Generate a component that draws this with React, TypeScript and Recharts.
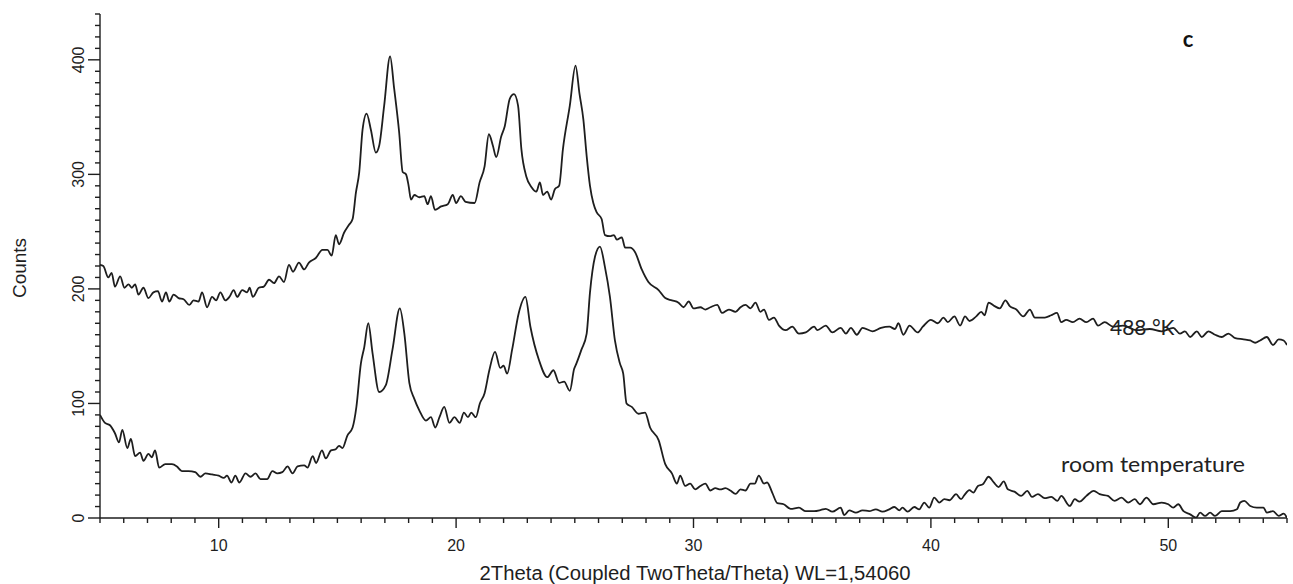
import React from 'react';
import { LineChart, Line, XAxis, YAxis } from 'recharts';

// [2theta, counts]
const trace488K: [number, number][] = [
  [5.0, 221], [5.14, 220], [5.35, 210], [5.49, 214], [5.63, 202], [5.85, 211], [6.03, 201], [6.2, 204],
  [6.34, 201], [6.48, 204], [6.62, 195], [6.83, 201], [7.04, 192], [7.25, 197], [7.44, 198], [7.61, 189],
  [7.78, 197], [7.92, 189], [8.1, 195], [8.31, 192], [8.52, 191], [8.76, 186], [8.94, 190], [9.15, 189],
  [9.3, 197], [9.51, 184], [9.72, 193], [9.89, 190], [10.07, 197], [10.28, 190], [10.45, 193], [10.63, 199],
  [10.78, 193], [10.99, 199], [11.2, 197], [11.3, 201], [11.44, 193], [11.69, 201], [11.9, 202], [12.12, 208],
  [12.33, 205], [12.54, 211], [12.75, 206], [12.96, 221], [13.13, 215], [13.38, 223], [13.6, 217], [13.8, 223],
  [14.09, 227], [14.37, 234], [14.58, 234], [14.76, 229], [14.93, 247], [15.07, 239], [15.28, 249], [15.49, 256],
  [15.64, 261], [15.78, 284], [15.92, 302], [16.06, 339], [16.23, 353], [16.41, 339], [16.62, 319], [16.76, 325],
  [16.97, 360], [17.22, 403], [17.39, 375], [17.6, 337], [17.75, 302], [17.89, 300], [18.0, 290], [18.1, 278],
  [18.24, 282], [18.45, 280], [18.66, 281], [18.8, 274], [18.94, 281], [19.11, 269], [19.37, 272], [19.65, 274],
  [19.86, 282], [20.0, 275], [20.2, 281], [20.4, 276], [20.78, 275], [20.99, 293], [21.2, 307], [21.38, 335],
  [21.55, 325], [21.69, 315], [21.9, 333], [22.05, 342], [22.26, 366], [22.44, 370], [22.61, 360], [22.75, 322],
  [22.96, 298], [23.17, 289], [23.38, 285], [23.53, 293], [23.66, 282], [23.84, 285], [24.0, 278], [24.16, 287],
  [24.34, 290], [24.5, 322], [24.79, 360], [25.03, 395], [25.2, 370], [25.36, 348], [25.5, 316], [25.64, 290],
  [25.78, 275], [25.92, 267], [26.13, 261], [26.27, 247], [26.48, 246], [26.65, 247], [26.77, 243], [26.98, 245],
  [27.12, 236], [27.33, 236], [27.54, 232], [27.82, 217], [28.1, 206], [28.53, 199], [28.81, 192], [29.09, 190],
  [29.37, 188], [29.58, 184], [29.8, 189], [30.0, 183], [30.29, 184], [30.5, 182], [30.71, 184], [31.0, 186],
  [31.2, 179], [31.49, 182], [31.77, 180], [31.98, 184], [32.19, 186], [32.4, 183], [32.61, 188], [32.82, 180],
  [32.97, 182], [33.18, 173], [33.39, 175], [33.6, 168], [33.88, 164], [34.16, 167], [34.44, 161], [34.73, 162],
  [35.08, 167], [35.22, 164], [35.57, 168], [35.85, 162], [36.2, 166], [36.42, 161], [36.63, 166], [36.88, 160],
  [37.12, 166], [37.54, 163], [37.9, 166], [38.25, 167], [38.49, 165], [38.63, 170], [38.84, 160], [39.1, 168],
  [39.44, 162], [39.66, 167], [40.0, 173], [40.29, 170], [40.53, 175], [40.71, 171], [40.99, 176], [41.23, 168],
  [41.44, 176], [41.63, 172], [41.91, 176], [42.12, 180], [42.26, 177], [42.43, 188], [42.68, 185], [42.9, 183],
  [43.14, 190], [43.32, 185], [43.6, 182], [43.89, 176], [44.17, 182], [44.38, 175], [44.8, 175], [45.07, 177],
  [45.31, 179], [45.49, 171], [45.7, 173], [45.98, 171], [46.26, 174], [46.55, 171], [46.83, 174], [47.04, 168],
  [47.32, 171], [47.67, 167], [48.09, 168], [48.66, 164], [49.22, 165], [49.72, 163], [50.21, 166], [50.49, 161],
  [50.7, 163], [50.92, 158], [51.2, 163], [51.41, 158], [51.69, 163], [51.97, 160], [52.25, 158], [52.53, 161],
  [52.82, 157], [53.17, 156], [53.45, 155], [53.66, 153], [53.87, 155], [54.15, 158], [54.41, 151], [54.65, 156],
  [54.86, 155], [55.0, 151],
];

const traceRoom: [number, number][] = [
  [5.0, 90], [5.21, 83], [5.42, 81], [5.63, 74], [5.8, 66], [5.94, 77], [6.15, 61], [6.3, 69],
  [6.48, 54], [6.69, 57], [6.83, 50], [7.04, 56], [7.18, 53], [7.32, 59], [7.49, 44], [7.75, 47],
  [8.03, 47], [8.24, 45], [8.45, 41], [8.73, 41], [9.01, 40], [9.23, 36], [9.44, 39], [9.72, 38],
  [10.0, 37], [10.21, 35], [10.35, 37], [10.54, 31], [10.7, 37], [10.87, 31], [11.13, 39], [11.34, 36],
  [11.55, 39], [11.76, 34], [12.04, 34], [12.26, 41], [12.47, 39], [12.68, 40], [12.9, 45], [13.11, 39],
  [13.32, 45], [13.6, 46], [13.74, 44], [13.96, 54], [14.1, 48], [14.35, 59], [14.51, 52], [14.73, 59],
  [14.93, 60], [15.07, 63], [15.21, 61], [15.42, 72], [15.64, 79], [15.8, 97], [15.99, 135], [16.13, 149],
  [16.3, 170], [16.48, 144], [16.76, 110], [17.04, 116], [17.32, 147], [17.63, 183], [17.82, 161], [18.03, 118],
  [18.24, 104], [18.45, 94], [18.73, 85], [18.94, 88], [19.12, 79], [19.3, 88], [19.5, 97], [19.72, 83],
  [19.93, 88], [20.15, 83], [20.33, 92], [20.5, 88], [20.64, 92], [20.83, 88], [21.0, 100], [21.2, 109],
  [21.4, 129], [21.64, 145], [21.86, 131], [22.0, 133], [22.15, 126], [22.36, 147], [22.64, 179], [22.92, 193],
  [23.13, 167], [23.49, 138], [23.84, 123], [24.1, 129], [24.34, 118], [24.55, 119], [24.79, 111], [24.97, 130],
  [25.07, 135], [25.28, 147], [25.5, 161], [25.64, 197], [25.85, 228], [26.06, 237], [26.27, 219], [26.48, 193],
  [26.69, 155], [26.9, 135], [27.04, 126], [27.18, 100], [27.4, 97], [27.68, 91], [27.96, 92], [28.17, 79],
  [28.53, 68], [28.81, 47], [29.09, 39], [29.3, 30], [29.44, 37], [29.65, 28], [29.86, 30], [30.07, 25],
  [30.29, 28], [30.5, 30], [30.71, 24], [30.92, 26], [31.13, 25], [31.34, 26], [31.55, 24], [31.77, 21],
  [31.98, 25], [32.19, 24], [32.4, 30], [32.58, 30], [32.75, 37], [32.97, 30], [33.1, 31], [33.32, 22],
  [33.53, 13], [33.8, 12], [34.09, 8], [34.44, 9], [34.73, 6], [35.08, 6], [35.37, 7], [35.57, 8],
  [35.85, 5.5], [36.2, 9], [36.35, 2.6], [36.56, 6.7], [36.84, 4.7], [37.12, 6.7], [37.4, 6], [37.68, 7.6],
  [37.96, 5.5], [38.25, 7.6], [38.46, 9.6], [38.67, 6.7], [38.8, 9], [39.02, 5.5], [39.3, 9.6], [39.51, 7.6],
  [39.72, 13.5], [39.93, 9], [40.14, 17.8], [40.35, 13.5], [40.57, 16.4], [40.78, 15.5], [41.06, 20.8], [41.27, 16.4],
  [41.41, 20], [41.62, 24.3], [41.79, 22.2], [41.98, 28], [42.19, 29.5], [42.43, 36], [42.65, 31], [42.85, 27],
  [43.07, 32], [43.24, 25], [43.52, 23], [43.8, 19.3], [44.06, 23.7], [44.26, 18.4], [44.51, 20.8], [44.79, 17.3],
  [45.07, 18.4], [45.33, 15], [45.49, 19.3], [45.85, 10.5], [46.06, 16.4], [46.26, 14.3], [46.55, 19.3], [46.86, 23.7],
  [47.11, 20.8], [47.46, 19.3], [47.74, 15], [48.03, 17.8], [48.31, 13.5], [48.59, 16.4], [48.8, 12], [49.08, 17.8],
  [49.37, 12], [49.72, 13.5], [50.0, 12], [50.21, 9], [50.42, 12], [50.64, 6], [50.92, 3.2], [51.17, 0.3],
  [51.34, 4.7], [51.55, 1.8], [51.76, 4.7], [51.97, 1.8], [52.25, 6], [52.61, 6], [52.89, 7.6], [53.03, 13.5],
  [53.2, 15], [53.45, 10.5], [53.73, 9], [54.01, 9], [54.15, 4.7], [54.41, 6], [54.65, 1.8], [54.86, 3.8],
  [55.0, 0],
];

const xTicks = Array.from({ length: 51 }, (_, i) => 5 + i);
const yTicks = Array.from({ length: 45 }, (_, i) => i * 10);

const INK = '#1e1e1e';
const AXIS_FONT = '"Liberation Sans", Arial, sans-serif';
const NOTE_FONT = 'Lato, "Open Sans", sans-serif';

const toRows = (pts: [number, number][]) => pts.map(([theta, counts]) => ({ theta, counts }));

const ThetaTick = ({ x, y, payload }: any) => {
  const major = payload.value % 10 === 0;
  return (
    <g>
      <line x1={x} y1={y} x2={x} y2={y + (major ? 10 : 5)} stroke={INK} strokeWidth={1.4} />
      {major && (
        <text x={x} y={y + 33} textAnchor="middle" fontSize={16} fontFamily={AXIS_FONT} fill={INK}>
          {payload.value}
        </text>
      )}
    </g>
  );
};

const CountTick = ({ x, y, payload }: any) => {
  const major = payload.value % 100 === 0;
  const tx = x - 16;
  return (
    <g>
      <line x1={x} y1={y} x2={x - (major ? 12 : 5)} y2={y} stroke={INK} strokeWidth={1.4} />
      {major && (
        <text x={tx} y={y} transform={`rotate(-90 ${tx} ${y})`} textAnchor="middle" fontSize={16} fontFamily={AXIS_FONT} fill={INK}>
          {payload.value}
        </text>
      )}
    </g>
  );
};

export default function App() {
  const hot = toRows(trace488K);
  const room = toRows(traceRoom);

  return (
    <div style={{ position: 'absolute', left: 0, top: 0, width: 1293, height: 584, background: '#fff' }}>
      <LineChart width={1293} height={584} margin={{ top: 14, right: 6, bottom: 0, left: 0 }}>
        <XAxis
          type="number"
          dataKey="theta"
          domain={[5, 55]}
          ticks={xTicks}
          interval={0}
          height={66}
          tickSize={0}
          tickMargin={0}
          tickLine={false}
          axisLine={{ stroke: INK, strokeWidth: 1.4 }}
          tick={<ThetaTick />}
          allowDataOverflow
        />
        <YAxis
          type="number"
          dataKey="counts"
          domain={[0, 440]}
          ticks={yTicks}
          interval={0}
          width={100}
          tickSize={0}
          tickMargin={0}
          tickLine={false}
          axisLine={{ stroke: INK, strokeWidth: 1.4 }}
          tick={<CountTick />}
          allowDataOverflow
        />
        <Line data={hot} dataKey="counts" type="monotone" stroke={INK} strokeWidth={1.8} dot={false} isAnimationActive={false} />
        <Line data={room} dataKey="counts" type="monotone" stroke={INK} strokeWidth={1.8} dot={false} isAnimationActive={false} />
      </LineChart>
      <svg width={1293} height={584} style={{ position: 'absolute', left: 0, top: 0, pointerEvents: 'none' }}>
        <text x={26} y={268} transform="rotate(-90 26 268)" textAnchor="middle" fontSize={19} fontFamily={AXIS_FONT} fill={INK}>
          Counts
        </text>
        <text x={695} y={580} textAnchor="middle" fontSize={20} textLength={431} lengthAdjust="spacingAndGlyphs" fontFamily={AXIS_FONT} fill={INK}>
          2Theta (Coupled TwoTheta/Theta) WL=1,54060
        </text>
        <text x={1188} y={47} textAnchor="middle" fontSize={22} fontWeight="bold" fontFamily={NOTE_FONT} fill="#111">
          c
        </text>
        <text x={1110} y={335} fontSize={21} fontFamily={NOTE_FONT} fill="#222">
          488 °K
        </text>
        <text x={1061} y={472} fontSize={22} textLength={184} lengthAdjust="spacingAndGlyphs" fontFamily={NOTE_FONT} fill="#222">
          room temperature
        </text>
      </svg>
    </div>
  );
}
